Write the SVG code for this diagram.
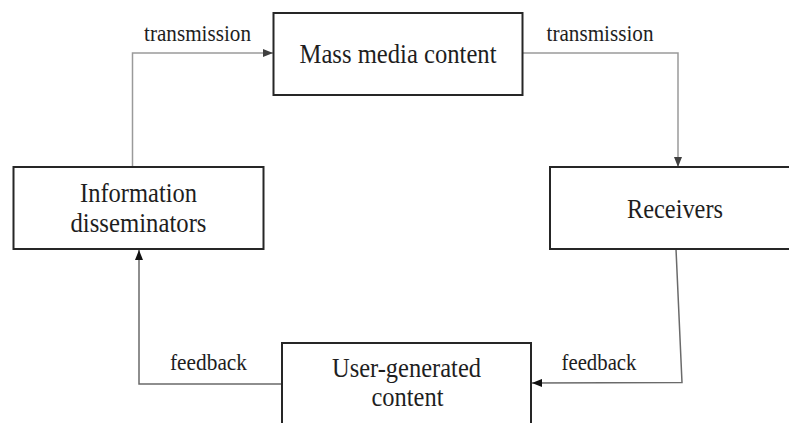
<svg xmlns="http://www.w3.org/2000/svg" width="789" height="423" viewBox="0 0 789 423">
<style>
.box{fill:#fff;stroke:#262626;stroke-width:2}
.t{font-family:"Liberation Serif","Times New Roman",serif;fill:#1e1e1e;text-anchor:middle}
.n{font-size:26.5px}
.l{font-size:22.5px}
.c1{fill:none;stroke:#9a9a9a;stroke-width:1.5}
.c2{fill:none;stroke:#6a6a6a;stroke-width:1.5}
</style>
<defs>
<marker id="ag" markerUnits="userSpaceOnUse" markerWidth="10" markerHeight="8" refX="10" refY="4" orient="auto"><path d="M0,0 L10,4 L0,8 Z" fill="#404040"/></marker>
<marker id="ab" markerUnits="userSpaceOnUse" markerWidth="10" markerHeight="8" refX="10" refY="4" orient="auto"><path d="M0,0 L10,4 L0,8 Z" fill="#111"/></marker>
</defs>
<rect width="789" height="423" fill="#fff"/>
<g id="connectors">
<polyline class="c1" points="132.5,167 132.5,53 273,53" marker-end="url(#ag)"/>
<polyline class="c1" points="522,53 678,53 678,167" marker-end="url(#ag)"/>
<polyline class="c2" points="676,249 682,382.5 532,383" marker-end="url(#ab)"/>
<polyline class="c2" points="282,384 139,384 139,250" marker-end="url(#ab)"/>
<text class="t l" x="197.5" y="41" textLength="107" lengthAdjust="spacingAndGlyphs">transmission</text>
<text class="t l" x="600" y="41" textLength="107" lengthAdjust="spacingAndGlyphs">transmission</text>
<text class="t l" x="208.5" y="370" textLength="77" lengthAdjust="spacingAndGlyphs">feedback</text>
<text class="t l" x="599" y="370" textLength="75" lengthAdjust="spacingAndGlyphs">feedback</text>
</g>
<g id="mass-media-content">
<rect class="box" x="273.5" y="13" width="249" height="82"/>
<text class="t n" x="398" y="63" textLength="197" lengthAdjust="spacingAndGlyphs">Mass media content</text>
</g>
<g id="information-disseminators">
<rect class="box" x="13.5" y="167" width="250" height="82"/>
<text class="t n" x="138.5" y="202" textLength="117" lengthAdjust="spacingAndGlyphs">Information</text>
<text class="t n" x="138.5" y="232" textLength="136" lengthAdjust="spacingAndGlyphs">disseminators</text>
</g>
<g id="receivers">
<rect class="box" x="550" y="167" width="242" height="82"/>
<text class="t n" x="675" y="218" textLength="96" lengthAdjust="spacingAndGlyphs">Receivers</text>
</g>
<g id="user-generated-content">
<rect class="box" x="282" y="343" width="249" height="90"/>
<text class="t n" x="406.5" y="377" textLength="149" lengthAdjust="spacingAndGlyphs">User-generated</text>
<text class="t n" x="407.5" y="406" textLength="72" lengthAdjust="spacingAndGlyphs">content</text>
</g>
</svg>
